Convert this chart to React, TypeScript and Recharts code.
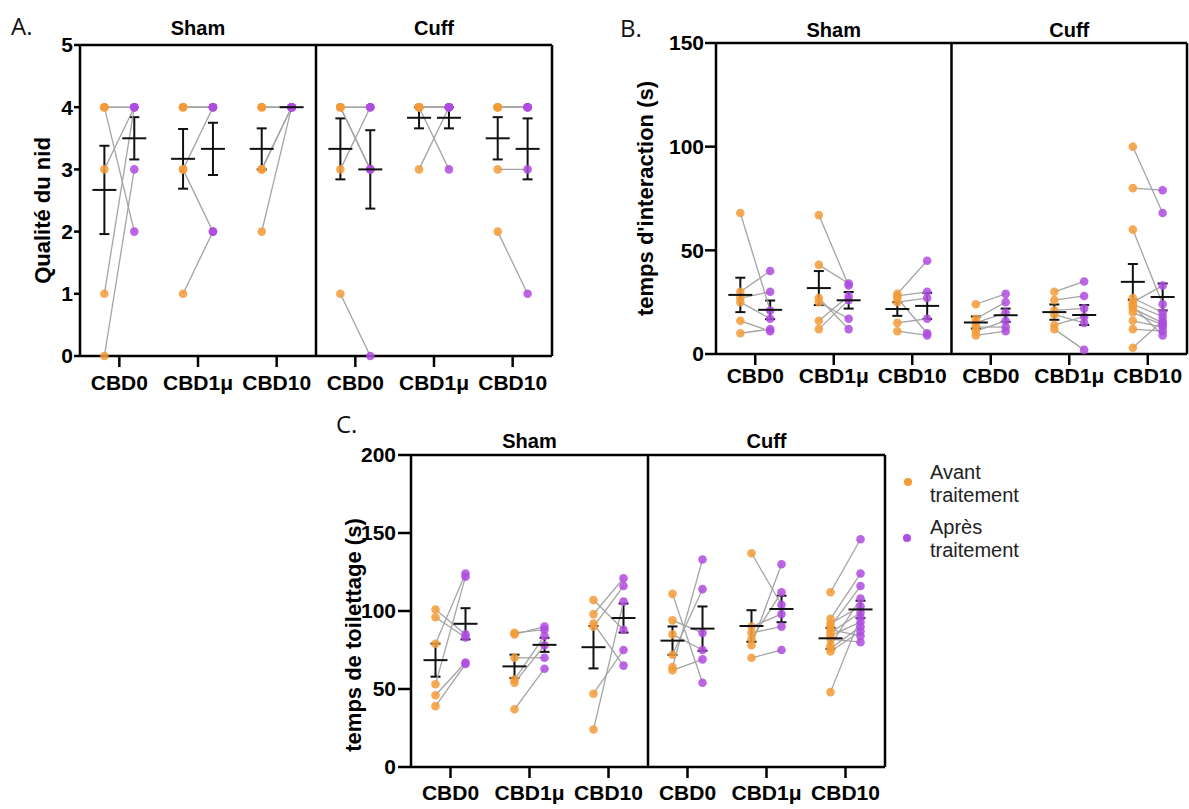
import { ComposedChart, Scatter, XAxis, YAxis, ErrorBar, ReferenceLine, ReferenceArea } from 'recharts'

const groupLabels = ['CBD0', 'CBD1μ', 'CBD10', 'CBD0', 'CBD1μ', 'CBD10']
const cohortLabels = ['Sham', 'Cuff']

// A. Qualité du nid (avant / après, appariés par animal)
const nidAvant = [
  [4, 4, 4, 3, 1, 0],
  [4, 4, 4, 3, 3, 1],
  [4, 4, 4, 3, 3, 2],
  [4, 4, 4, 4, 3, 1],
  [4, 4, 4, 4, 4, 3],
  [4, 4, 4, 4, 3, 2],
]
const nidApres = [
  [4, 4, 2, 4, 4, 3],
  [4, 4, 4, 4, 2, 2],
  [4, 4, 4, 4, 4, 4],
  [4, 4, 3, 3, 4, 0],
  [4, 4, 4, 4, 3, 4],
  [4, 4, 4, 4, 3, 1],
]
const nidMoyAvant = [2.67, 3.17, 3.33, 3.33, 3.83, 3.5]
const nidSemAvant = [0.71, 0.48, 0.33, 0.49, 0.17, 0.34]
const nidMoyApres = [3.5, 3.33, 4, 3.0, 3.83, 3.33]
const nidSemApres = [0.34, 0.42, 0, 0.63, 0.17, 0.49]

// B. temps d'interaction (s)
const interAvant = [
  [68, 30, 27, 25, 16, 10],
  [67, 43, 27, 25, 16, 12],
  [29, 28, 27, 25, 15, 11],
  [24, 17, 15, 13, 11, 9],
  [30, 26, 21, 19, 14, 12],
  [100, 80, 60, 27, 25, 24, 23, 22, 20, 16, 12, 3],
]
const interApres = [
  [21, 40, 30, 17, 11, 12],
  [33, 34, 12, 17, 28, 26],
  [45, 30, 10, 27, 17, 9],
  [29, 25, 20, 13, 16, 11],
  [35, 28, 22, 15, 18, 2],
  [68, 79, 24, 20, 33, 18, 9, 15, 14, 13, 11, 16],
]
const interMoyAvant = [28.5, 31.8, 21.7, 15.2, 20.2, 34.8]
const interSemAvant = [8.3, 8.2, 3.3, 2.9, 3.7, 8.6]
const interMoyApres = [21.3, 25.9, 23.2, 18.7, 18.8, 27.5]
const interSemApres = [4.5, 4.0, 6.3, 3.2, 4.8, 6.5]

// C. temps de toilettage (s)
const toilAvant = [
  [101, 96, 79, 53, 46, 39],
  [86, 85, 70, 56, 54, 37],
  [107, 98, 92, 90, 47, 24],
  [111, 94, 85, 72, 64, 62],
  [137, 90, 86, 82, 78, 70],
  [112, 95, 92, 90, 88, 86, 84, 82, 78, 76, 74, 48],
]
const toilApres = [
  [85, 83, 124, 122, 67, 66],
  [88, 90, 70, 84, 78, 63],
  [88, 121, 65, 116, 75, 106],
  [54, 86, 75, 114, 133, 69],
  [104, 98, 90, 112, 130, 75],
  [146, 124, 103, 116, 84, 99, 93, 80, 108, 90, 87, 96],
]
const toilMoyAvant = [68.5, 64.5, 76.8, 81, 90.4, 82.5]
const toilSemAvant = [10.6, 7.5, 13.6, 9.1, 10.1, 6.7]
const toilMoyApres = [91.8, 78.3, 95.5, 88.7, 101.3, 101]
const toilSemApres = [10, 4.5, 9.3, 14.2, 8.5, 5.6]

const ORANGE = '#F39B38'
const PURPLE = '#AE4BE0'
const FONT = '"Liberation Sans", Arial, sans-serif'
const SHIFT = 0.19

const makeDot = (color: string) => (p: any) => (
  <circle cx={p.cx} cy={p.cy} r={4.3} fill={color} fillOpacity={0.85} />
)
const hidden = () => <g />
const meanLine = (p: any) => (
  <line x1={p.cx - 12} x2={p.cx + 12} y1={p.cy} y2={p.cy} stroke="#111" strokeWidth={2} />
)

function PairedPanel(props: any) {
  const {
    avant, apres, moyAvant, semAvant, moyApres, semApres,
    yMax, yTicks, yLabel, width, height, margin, yWidth,
    yTickSize, yTickMargin, xTickMargin, titleMargin, labelOffset, labelDy,
  } = props

  const pairs: any[] = []
  const dotsAvant: any[] = []
  const dotsApres: any[] = []
  avant.forEach((vals: number[], g: number) => {
    vals.forEach((v, i) => {
      const a = { x: g + 0.5 - SHIFT, y: v }
      const b = { x: g + 0.5 + SHIFT, y: apres[g][i] }
      pairs.push([a, b])
      dotsAvant.push(a)
      dotsApres.push(b)
    })
  })
  const statsAvant = moyAvant.map((m: number, g: number) => ({ x: g + 0.5 - SHIFT, y: m, err: semAvant[g] }))
  const statsApres = moyApres.map((m: number, g: number) => ({ x: g + 0.5 + SHIFT, y: m, err: semApres[g] }))

  const tickStyle = { fill: '#000', fontSize: 21, fontWeight: 700, fontFamily: FONT }
  const axisStroke = { stroke: '#000', strokeWidth: 2.5 }
  const titleStyle = { fill: '#000', fontSize: 20, fontWeight: 700, fontFamily: FONT }

  return (
    <ComposedChart width={width} height={height} margin={margin}>
      <XAxis
        type="number"
        dataKey="x"
        domain={[0, 6]}
        ticks={[0.5, 1.5, 2.5, 3.5, 4.5, 5.5]}
        tickFormatter={(v: number) => groupLabels[Math.round(v - 0.5)]}
        axisLine={axisStroke}
        tickLine={axisStroke}
        tickSize={11}
        tickMargin={xTickMargin}
        height={30}
        tick={tickStyle}
        interval={0}
      />
      <YAxis
        type="number"
        dataKey="y"
        domain={[0, yMax]}
        ticks={yTicks}
        width={yWidth}
        axisLine={axisStroke}
        tickLine={axisStroke}
        tickSize={yTickSize}
        tickMargin={yTickMargin}
        tick={tickStyle}
        interval={0}
        label={{
          value: yLabel,
          angle: -90,
          position: 'insideLeft',
          offset: labelOffset,
          dy: labelDy,
          style: { textAnchor: 'middle', fill: '#000', fontSize: 22, fontWeight: 700, fontFamily: FONT },
        }}
      />
      <ReferenceArea
        x1={0}
        x2={3}
        fillOpacity={0}
        strokeOpacity={0}
        label={{ value: cohortLabels[0], position: 'top', offset: titleMargin, style: titleStyle }}
      />
      <ReferenceArea
        x1={3}
        x2={6}
        fillOpacity={0}
        strokeOpacity={0}
        label={{ value: cohortLabels[1], position: 'top', offset: titleMargin, style: titleStyle }}
      />
      <ReferenceLine y={yMax} stroke="#000" strokeWidth={2.5} />
      <ReferenceLine x={3} stroke="#000" strokeWidth={2.5} />
      <ReferenceLine x={6} stroke="#000" strokeWidth={2.5} />
      {pairs.map((p, k) => (
        <Scatter
          key={k}
          data={p}
          line={{ stroke: '#a4a4a4', strokeWidth: 1.3 }}
          shape={hidden}
          isAnimationActive={false}
        />
      ))}
      <Scatter data={dotsAvant} shape={makeDot(ORANGE)} isAnimationActive={false} />
      <Scatter data={dotsApres} shape={makeDot(PURPLE)} isAnimationActive={false} />
      <Scatter data={statsAvant} shape={meanLine} isAnimationActive={false}>
        <ErrorBar dataKey="err" direction="y" width={5} stroke="#111" strokeWidth={2} />
      </Scatter>
      <Scatter data={statsApres} shape={meanLine} isAnimationActive={false}>
        <ErrorBar dataKey="err" direction="y" width={5} stroke="#111" strokeWidth={2} />
      </Scatter>
    </ComposedChart>
  )
}

const letterStyle: any = {
  position: 'absolute',
  fontFamily: '"Open Sans", sans-serif',
  fontSize: 24,
  color: '#111',
  lineHeight: '24px',
}

export default function App() {
  return (
    <div style={{ position: 'absolute', left: 0, top: 0, width: 1189, height: 809, background: '#fff', overflow: 'hidden' }}>
      <div style={{ ...letterStyle, left: 11, top: 14 }}>A.</div>
      <div style={{ ...letterStyle, left: 620, top: 16 }}>B.</div>
      <div style={{ ...letterStyle, left: 336, top: 412 }}>C.</div>

      <div style={{ position: 'absolute', left: 0, top: 0 }}>
        <PairedPanel
          avant={nidAvant} apres={nidApres}
          moyAvant={nidMoyAvant} semAvant={nidSemAvant}
          moyApres={nidMoyApres} semApres={nidSemApres}
          yMax={5} yTicks={[0, 1, 2, 3, 4, 5]} yLabel="Qualité du nid"
          width={600} height={400}
          margin={{ top: 45, right: 48, bottom: 14, left: 40 }}
          yWidth={40} yTickSize={6} yTickMargin={1}
          xTickMargin={8} titleMargin={10} labelOffset={2} labelDy={10}
        />
      </div>

      <div style={{ position: 'absolute', left: 600, top: 0 }}>
        <PairedPanel
          avant={interAvant} apres={interApres}
          moyAvant={interMoyAvant} semAvant={interSemAvant}
          moyApres={interMoyApres} semApres={interSemApres}
          yMax={150} yTicks={[0, 50, 100, 150]} yLabel="temps d'interaction (s)"
          width={589} height={400}
          margin={{ top: 43, right: 2, bottom: 16, left: 36 }}
          yWidth={80} yTickSize={11} yTickMargin={1}
          xTickMargin={3} titleMargin={6} labelOffset={9} labelDy={0}
        />
      </div>

      <div style={{ position: 'absolute', left: 320, top: 410 }}>
        <PairedPanel
          avant={toilAvant} apres={toilApres}
          moyAvant={toilMoyAvant} semAvant={toilSemAvant}
          moyApres={toilMoyApres} semApres={toilSemApres}
          yMax={200} yTicks={[0, 50, 100, 150, 200]} yLabel="temps de toilettage (s)"
          width={580} height={399}
          margin={{ top: 45, right: 15, bottom: 12, left: 31 }}
          yWidth={60} yTickSize={13} yTickMargin={2}
          xTickMargin={7} titleMargin={7} labelOffset={2} labelDy={24}
        />
      </div>

      <div style={{ position: 'absolute', left: 904, top: 478, width: 8, height: 8, borderRadius: 4, background: ORANGE }} />
      <div style={{ position: 'absolute', left: 930, top: 461, fontFamily: FONT, fontSize: 20, lineHeight: '23px', color: '#222' }}>
        Avant<br />traitement
      </div>
      <div style={{ position: 'absolute', left: 903, top: 534, width: 8, height: 8, borderRadius: 4, background: PURPLE }} />
      <div style={{ position: 'absolute', left: 930, top: 516, fontFamily: FONT, fontSize: 20, lineHeight: '23px', color: '#222' }}>
        Après<br />traitement
      </div>
    </div>
  )
}
